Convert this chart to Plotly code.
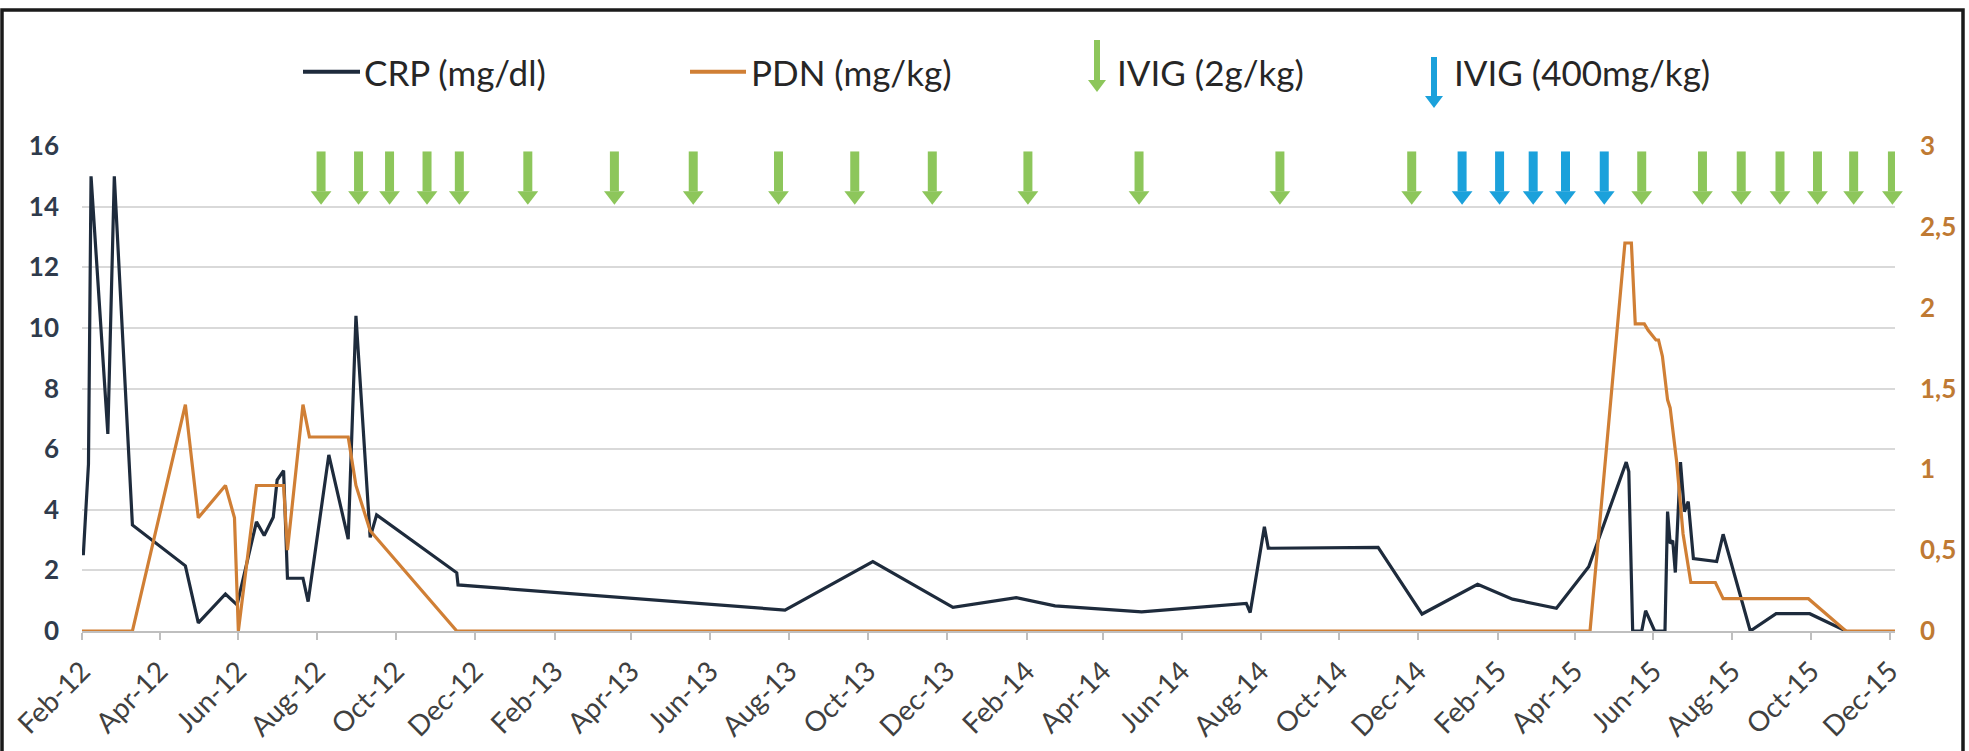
import plotly.graph_objects as go

# ---------------- data ----------------
crp_dates = [
    "2012-02-02", "2012-02-06", "2012-02-08", "2012-02-21", "2012-02-26", "2012-03-11",
    "2012-04-21", "2012-05-01", "2012-05-22", "2012-05-31", "2012-06-15", "2012-06-21",
    "2012-06-28", "2012-07-01", "2012-07-06", "2012-07-09", "2012-07-21", "2012-07-25",
    "2012-08-10", "2012-08-25", "2012-08-31", "2012-09-11", "2012-09-16", "2012-11-17",
    "2012-11-18", "2013-07-29", "2013-10-05", "2013-12-06", "2014-01-24", "2014-02-23",
    "2014-05-01", "2014-07-21", "2014-07-24", "2014-08-04", "2014-08-07", "2014-10-31",
    "2014-12-04", "2015-01-16", "2015-02-12", "2015-03-18", "2015-04-12", "2015-05-11",
    "2015-05-13", "2015-05-16", "2015-05-23", "2015-05-26", "2015-06-02", "2015-06-10",
    "2015-06-12", "2015-06-14", "2015-06-16", "2015-06-18", "2015-06-22", "2015-06-25",
    "2015-06-28", "2015-07-02", "2015-07-20", "2015-07-25", "2015-08-15", "2015-09-04",
    "2015-09-30", "2015-10-28",
]
crp_values = [
    2.5, 5.5, 15.0, 6.5, 15.0, 3.5,
    2.15, 0.27, 1.22, 0.86, 3.6, 3.15,
    3.75, 4.98, 5.29, 1.74, 1.74, 0.97,
    5.81, 3.03, 10.4, 3.09, 3.83, 1.92,
    1.52, 0.69, 2.29, 0.78, 1.1, 0.83,
    0.63, 0.91, 0.61, 3.44, 2.73, 2.76,
    0.56, 1.54, 1.05, 0.75, 2.12, 5.57,
    5.26, 0.0, 0.0, 0.67, 0.0, 0.0,
    3.94, 2.89, 2.98, 1.93, 5.57, 3.94,
    4.27, 2.39, 2.29, 3.19, 0.0, 0.57,
    0.57, 0.0,
]

pdn_dates = [
    "2012-02-01", "2012-03-11", "2012-04-21", "2012-05-01", "2012-05-22", "2012-05-29",
    "2012-06-01", "2012-06-15", "2012-07-06", "2012-07-09", "2012-07-21", "2012-07-26",
    "2012-08-25", "2012-08-31", "2012-09-11", "2012-11-17", "2015-04-13", "2015-05-10",
    "2015-05-15", "2015-05-18", "2015-05-25", "2015-05-28", "2015-06-03", "2015-06-05",
    "2015-06-08", "2015-06-12", "2015-06-14", "2015-06-19", "2015-06-24", "2015-06-30",
    "2015-07-19", "2015-07-25", "2015-09-29", "2015-10-28", "2015-12-05",
]
pdn_values = [
    0.0, 0.0, 1.4, 0.7, 0.9, 0.7,
    0.0, 0.9, 0.9, 0.5, 1.4, 1.2,
    1.2, 0.9, 0.62, 0.0, 0.0, 2.4,
    2.4, 1.9, 1.9, 1.86, 1.8, 1.8,
    1.7, 1.43, 1.38, 1.05, 0.6, 0.3,
    0.3, 0.2, 0.2, 0.0, 0.0,
]

ivig_2g_dates = [
    "2012-08-04", "2012-09-02", "2012-09-26", "2012-10-25", "2012-11-19", "2013-01-11",
    "2013-03-19", "2013-05-19", "2013-07-24", "2013-09-21", "2013-11-20", "2014-02-02",
    "2014-04-29", "2014-08-16", "2014-11-26", "2015-05-23", "2015-07-09", "2015-08-08",
    "2015-09-07", "2015-10-06", "2015-11-03", "2015-12-03",
]
ivig_400mg_dates = ["2015-01-04", "2015-02-02", "2015-02-28", "2015-03-25", "2015-04-24"]

series_names = ["CRP (mg/dl)", "PDN (mg/kg)", "IVIG (2g/kg)", "IVIG (400mg/kg)"]
y_left_ticks = [0, 2, 4, 6, 8, 10, 12, 14, 16]
y_right_ticks = [0, 0.5, 1, 1.5, 2, 2.5, 3]

# ---------------- style ----------------
CRP_COLOR = "#1E2B3C"
PDN_COLOR = "#D07F35"
PDN_LABEL = "#BF7A33"
GREEN = "#8DC65B"
BLUE = "#1BA1DB"
GRID = "#D9D9D9"
FONT = "Lato"

W, H = 1969, 751
ML, MR, MT, MB = 82, 74, 146, 120
PW, PH = W - ML - MR, H - MT - MB

def px_x(px):
    return (px - ML) / PW

def px_y(py):
    return (H - MB - py) / PH

fig = go.Figure()

fig.add_trace(go.Scatter(x=crp_dates, y=crp_values, name=series_names[0], mode="lines",
                         line=dict(color=CRP_COLOR, width=3.2), yaxis="y", showlegend=False))
fig.add_trace(go.Scatter(x=pdn_dates, y=pdn_values, name=series_names[1], mode="lines",
                         line=dict(color=PDN_COLOR, width=3.2), yaxis="y2", showlegend=False))

# IVIG arrows (shaft + head) placed at each infusion date
SHAFT_TOP, SHAFT_BOTTOM, HEAD_Y = 15.82, 14.5, 14.36

def add_arrows(dates, color, name):
    xs, ys = [], []
    for d in dates:
        xs += [d, d, None]
        ys += [SHAFT_TOP, SHAFT_BOTTOM, None]
    fig.add_trace(go.Scatter(x=xs, y=ys, mode="lines", name=name, line=dict(color=color, width=9),
                             showlegend=False, cliponaxis=False, hoverinfo="skip"))
    fig.add_trace(go.Scatter(x=dates, y=[HEAD_Y] * len(dates), mode="markers", name=name,
                             marker=dict(symbol="triangle-down", size=18, color=color,
                                         line=dict(width=0)),
                             showlegend=False, cliponaxis=False))

add_arrows(ivig_2g_dates, GREEN, series_names[2])
add_arrows(ivig_400mg_dates, BLUE, series_names[3])

# ---------------- custom legend ----------------
shapes = []
annotations = []
leg_y = px_y(71.7)
# CRP
shapes.append(dict(type="line", xref="paper", yref="paper", x0=px_x(303), x1=px_x(360),
                   y0=leg_y, y1=leg_y, line=dict(color=CRP_COLOR, width=4)))
annotations.append(dict(text=series_names[0], x=px_x(362), y=leg_y, xref="paper", yref="paper",
                        xanchor="left", yanchor="middle", showarrow=False,
                        font=dict(family=FONT, size=35, color="#262626")))
# PDN
shapes.append(dict(type="line", xref="paper", yref="paper", x0=px_x(690), x1=px_x(746),
                   y0=leg_y, y1=leg_y, line=dict(color=PDN_COLOR, width=4)))
annotations.append(dict(text=series_names[1], x=px_x(749), y=leg_y, xref="paper", yref="paper",
                        xanchor="left", yanchor="middle", showarrow=False,
                        font=dict(family=FONT, size=35, color="#262626")))

def legend_arrow(xc, top, head_top, tip, color):
    x = px_x(xc)
    hw = 9 / PW
    shapes.append(dict(type="line", xref="paper", yref="paper", x0=x, x1=x,
                       y0=px_y(top), y1=px_y(head_top) - 0.002, line=dict(color=color, width=6)))
    shapes.append(dict(type="path", xref="paper", yref="paper",
                       path=f"M {x - hw},{px_y(head_top)} L {x + hw},{px_y(head_top)} L {x},{px_y(tip)} Z",
                       fillcolor=color, line=dict(width=0)))

legend_arrow(1097, 40, 80, 92, GREEN)
annotations.append(dict(text=series_names[2], x=px_x(1115), y=leg_y, xref="paper", yref="paper",
                        xanchor="left", yanchor="middle", showarrow=False,
                        font=dict(family=FONT, size=35, color="#262626")))
legend_arrow(1434, 57, 96, 108, BLUE)
annotations.append(dict(text=series_names[3], x=px_x(1452), y=leg_y, xref="paper", yref="paper",
                        xanchor="left", yanchor="middle", showarrow=False,
                        font=dict(family=FONT, size=35, color="#262626")))

# outer frame
shapes.append(dict(type="rect", xref="paper", yref="paper", x0=px_x(2), x1=px_x(1963),
                   y0=px_y(770), y1=px_y(10), line=dict(color="#1A1A1A", width=3.5),
                   fillcolor="rgba(0,0,0,0)", layer="above"))

fig.update_layout(
    width=W, height=H,
    margin=dict(l=ML, r=MR, t=MT, b=MB, pad=0, autoexpand=False),
    paper_bgcolor="white", plot_bgcolor="white",
    separators=", ",
    font=dict(family=FONT, color="#404040"),
    shapes=shapes, annotations=annotations,
    xaxis=dict(
        type="date", range=["2012-02-01", "2015-12-05"], automargin=False,
        tick0="2012-02-01", dtick="M2", tickformat="%b-%y", tickangle=-45,
        ticks="outside", ticklen=7, tickwidth=1.5, tickcolor="#BFBFBF",
        showline=True, linecolor="#BFBFBF", linewidth=1.5,
        showgrid=False, zeroline=False,
        tickfont=dict(family=FONT, size=28, color="#404040"),
        ticklabelstandoff=4,
    ),
    yaxis=dict(
        range=[0, 16], tickvals=y_left_ticks, showgrid=True, gridcolor=GRID, gridwidth=1.5,
        zeroline=False, showline=False, ticks="", automargin=False,
        tickfont=dict(family=FONT, size=26, color="#2F3B4C", weight="bold"),
        ticklabelstandoff=22,
    ),
    yaxis2=dict(
        range=[0, 3], tickvals=y_right_ticks, overlaying="y", side="right",
        showgrid=False, zeroline=False, showline=False, ticks="", automargin=False,
        tickfont=dict(family=FONT, size=26, color=PDN_LABEL, weight="bold"),
        ticklabelstandoff=24,
    ),
)

fig.write_html("out.html", config={"displayModeBar": False},
               post_script="document.body.style.margin='0';document.body.style.overflow='hidden';")
